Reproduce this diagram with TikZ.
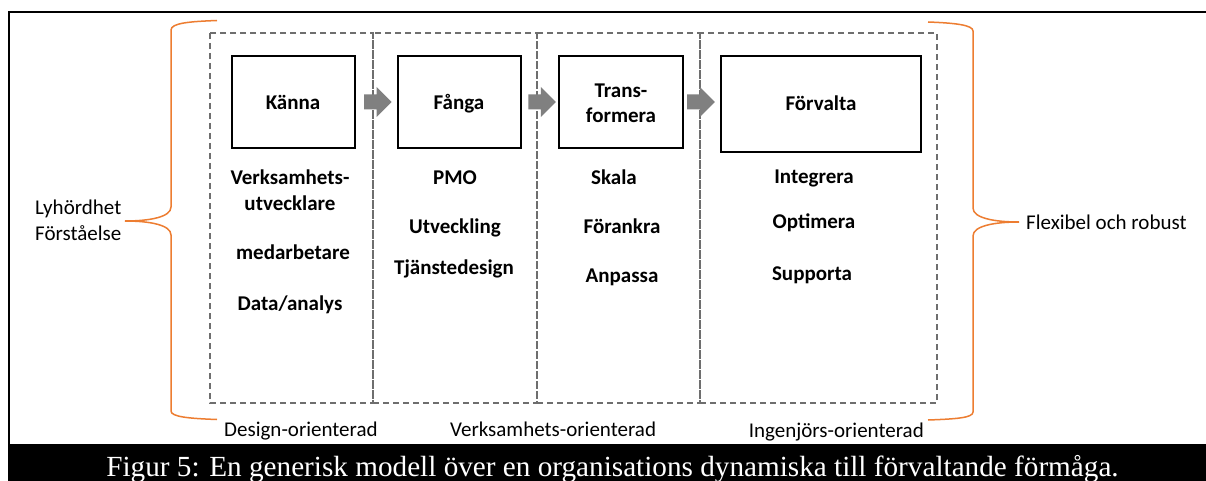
\documentclass[tikz,border=0pt]{standalone}
\usepackage{fontspec}
\setmainfont{Carlito}
\newfontfamily\capfont{Liberation Serif}
\usetikzlibrary{calc}
\definecolor{braceorange}{HTML}{ED7D31}
\definecolor{dashgray}{HTML}{6E6E6E}
\definecolor{arrowgray}{HTML}{808080}
\newcommand\blockarr[2]{%
  \fill[arrowgray] let \p1=(#1), \p2=(#2) in
    (\x1,\y1+7.5pt) -- (\x2-15pt,\y1+7.5pt) -- (\x2-15pt,\y1+15pt) -- (\x2,\y1)
    -- (\x2-15pt,\y1-15pt) -- (\x2-15pt,\y1-7.5pt) -- (\x1,\y1-7.5pt) -- cycle;}
\begin{document}
\begin{tikzpicture}[x=1pt,y=-1pt,
  stagebox/.style={draw=black, line width=2.2pt, minimum width=#1, minimum height=92pt,
    font=\fontsize{21}{25}\selectfont\bfseries, align=center, inner sep=0pt},
  item/.style={font=\fontsize{21}{25}\selectfont\bfseries, inner sep=0pt, anchor=base},
  sidetext/.style={font=\fontsize{21}{25}\selectfont, inner sep=0pt},
  dashbox/.style={draw=dashgray, line width=1.8pt, dash pattern=on 6pt off 4pt},
  brace/.style={draw=braceorange, line width=1.5pt}]
\useasboundingbox[fill=white] (0,0) rectangle (1206,481);
% frame and caption band
\draw[line width=2pt] (9,446) -- (9,12) -- (1206,12);
\fill[black] (8,444) rectangle (1206,481);
\node[text=white, font=\capfont\fontsize{29.2}{32}\selectfont, inner sep=0pt, anchor=base] (cap) at (612.5,476)
  {Figur 5: En generisk modell över en organisations dynamiska till förvaltande förmåga.};
% dashed phase boxes
\draw[dashbox] (210,33) rectangle (373,403);
\draw[dashbox] (373,33) rectangle (537,403);
\draw[dashbox] (537,33) rectangle (700,403);
\draw[dashbox] (700,33) rectangle (937,403);
% stage boxes
\node[stagebox=123pt] (k) at (293.5,102) {};
\node[item] at (293,110) {Känna};
\node[stagebox=123pt] (f) at (459.3,102) {};
\node[item] at (459,110) {Fånga};
\node[stagebox=124pt] (t) at (621,102) {};
\node[item] at (621,97.5) {Trans-};
\node[item] at (621,123) {formera};
\node[stagebox=200pt, minimum height=96pt] (v) at (821,104) {};
\node[item] at (821,111) {Förvalta};
% block arrows
\blockarr{$(k.east)+(8,0)$}{$(f.west)+(-5,0)$}
\blockarr{$(f.east)+(6.5,0)$}{$(t.west)+(-2,0)$}
\blockarr{$(t.east)+(3,0)$}{$(v.west)+(-5,0)$}
% column items
\node[item] (c1a) at (290,185) {Verksamhets-};
\node[item] (c1b) at (290,210) {utvecklare};
\node[item] (c1c) at (293,259) {medarbetare};
\node[item] (c1d) at (290,310) {Data/analys};
\node[item] (c2a) at (455,185) {PMO};
\node[item] (c2b) at (455,233) {Utveckling};
\node[item] (c2c) at (454,274) {Tjänstedesign};
\node[item] (c3a) at (614,185) {Skala};
\node[item] (c3b) at (622,233) {Förankra};
\node[item] (c3c) at (622,282) {Anpassa};
\node[item] (c4a) at (814,183) {Integrera};
\node[item] (c4b) at (814,228) {Optimera};
\node[item] (c4c) at (812,280) {Supporta};
% braces
\draw[brace] (217,20.5) .. controls (190,21.5) and (171,23) .. (171,30) -- (171,207)
  .. controls (171,217) and (150,221) .. (125,221)
  .. controls (150,221) and (171,225) .. (171,235) -- (171,411)
  .. controls (171,417) and (190,418.5) .. (217,419.5);
\draw[brace] (928,22) .. controls (955,23) and (973,25) .. (973,31) -- (973,208)
  .. controls (973,218) and (994,222) .. (1019,222)
  .. controls (994,222) and (973,226) .. (973,236) -- (973,412)
  .. controls (973,418) and (955,419) .. (928,420);
% side texts
\node[sidetext, anchor=base west] (l1) at (35,214) {Lyhördhet};
\node[sidetext, anchor=base west] (l2) at (35,240) {Förståelse};
\node[sidetext, anchor=base west] (r1) at (1026,229) {Flexibel och robust};
% bottom labels
\node[sidetext, anchor=base west] (b1) at (224,436) {Design-orienterad};
\node[sidetext, anchor=base west] (b2) at (450,436) {Verksamhets-orienterad};
\node[sidetext, anchor=base east] (b3) at (924,437) {Ingenjörs-orienterad};
\end{tikzpicture}
\end{document}
